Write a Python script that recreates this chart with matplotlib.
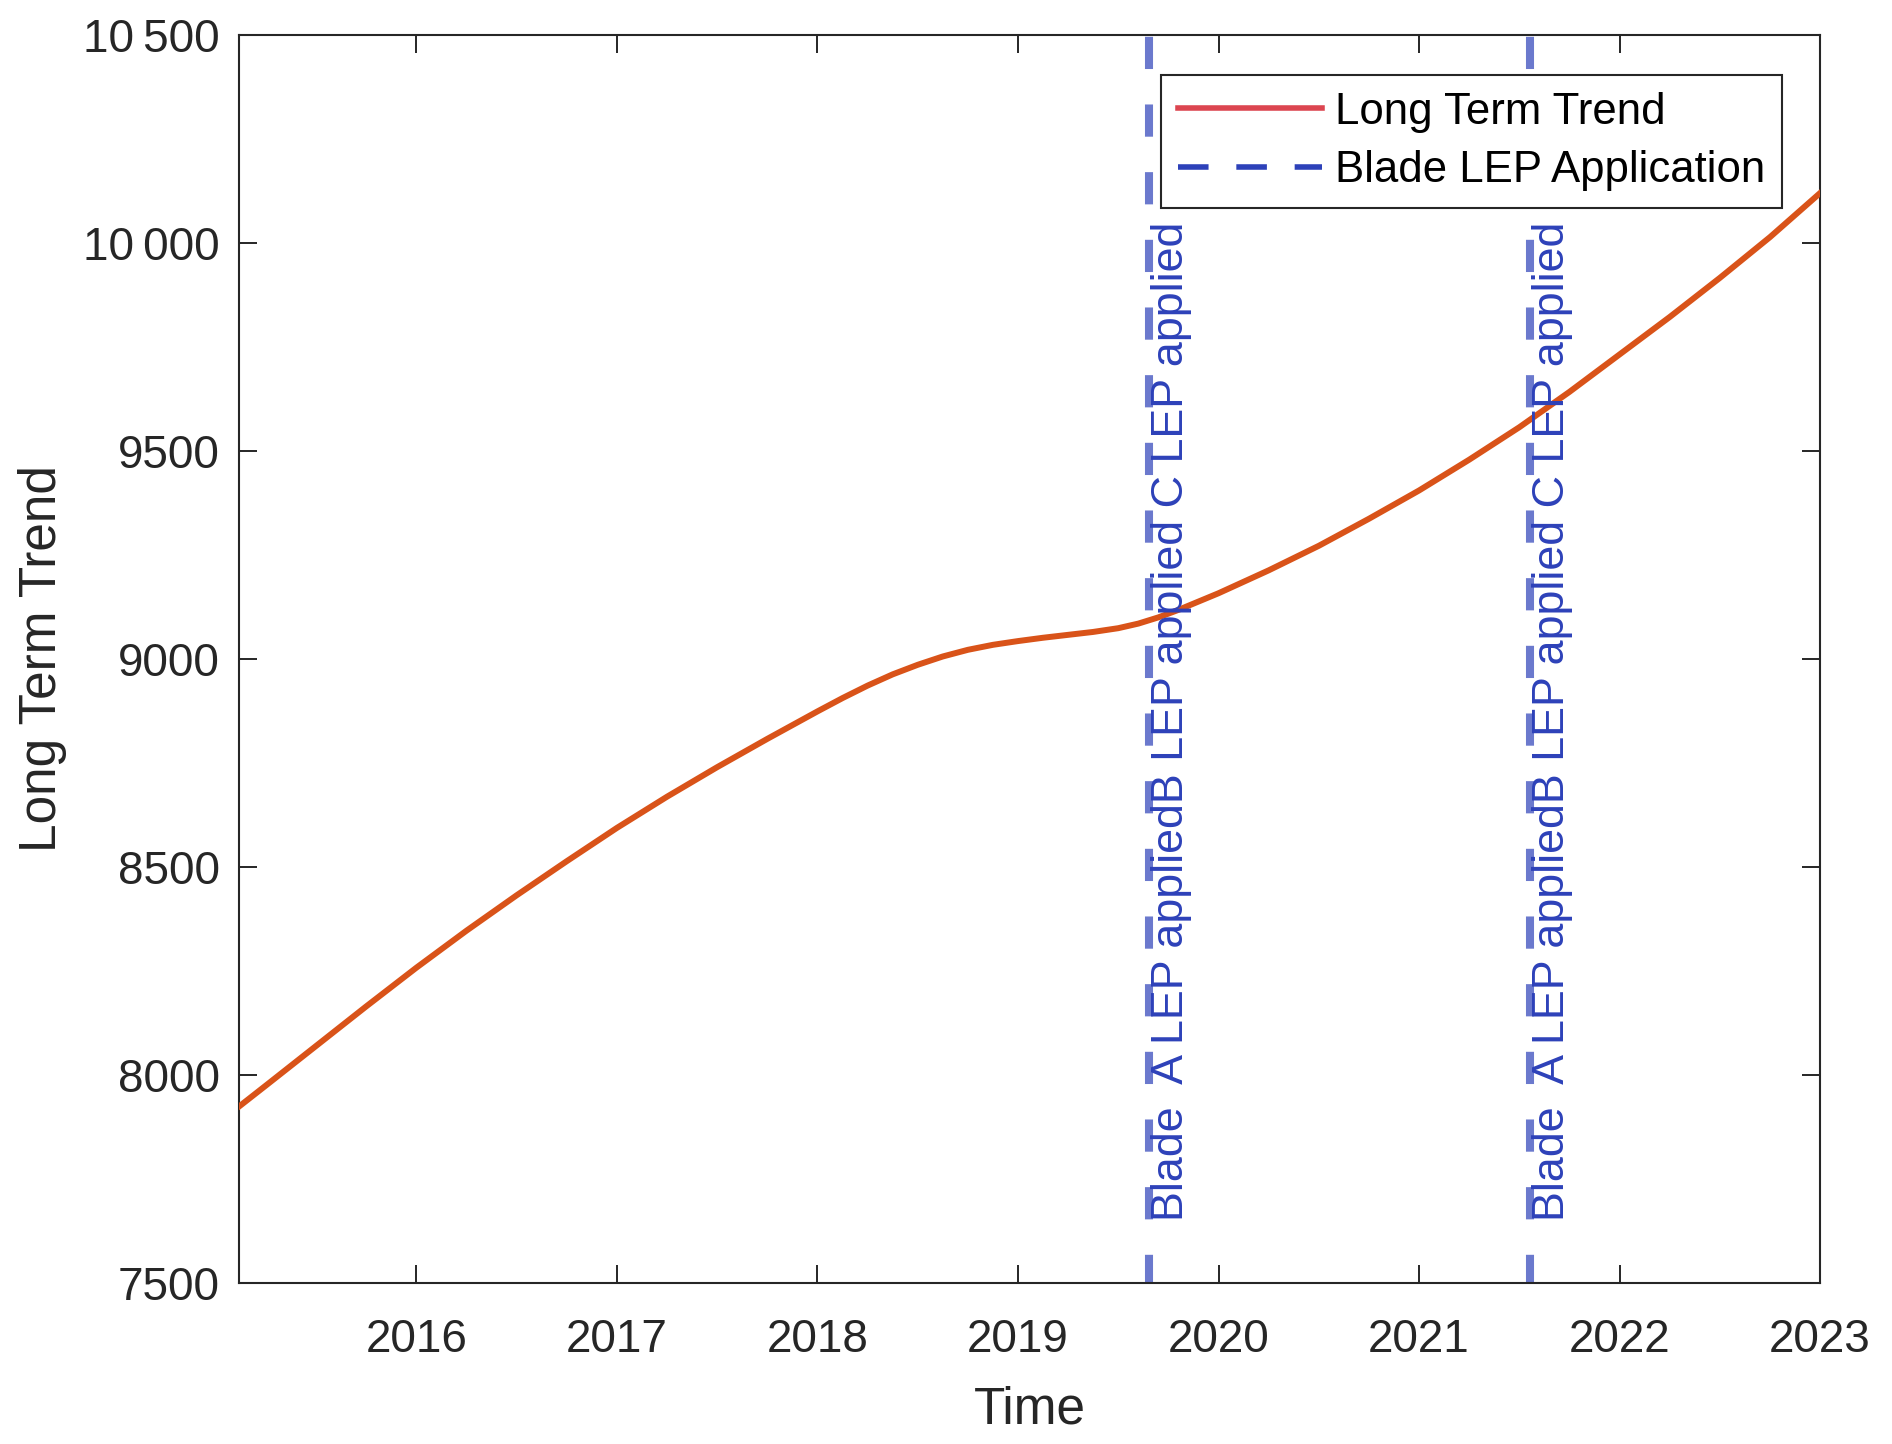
import matplotlib
matplotlib.use('Agg')
import matplotlib.pyplot as plt
from matplotlib.lines import Line2D

######Data######

# time in decimal years, long term trend value
years = [2015.115, 2015.25, 2015.50, 2015.75, 2016.00, 2016.25, 2016.50, 2016.75,
         2017.00, 2017.25, 2017.50, 2017.75, 2018.00, 2018.125, 2018.25, 2018.375,
         2018.50, 2018.625, 2018.75, 2018.875, 2019.00, 2019.125, 2019.25, 2019.375,
         2019.50, 2019.60, 2019.70, 2019.80, 2019.90, 2020.00, 2020.25, 2020.50,
         2020.75, 2021.00, 2021.25, 2021.50, 2021.75, 2022.00, 2022.25, 2022.50,
         2022.75, 2023.00]
trend = [7924, 7975, 8070, 8165, 8258, 8347, 8432, 8514,
         8594, 8669, 8740, 8808, 8874, 8906, 8936, 8963,
         8986, 9006, 9022, 9034, 9043, 9051, 9058, 9065,
         9074, 9085, 9100, 9118, 9138, 9158, 9213, 9272,
         9337, 9405, 9479, 9557, 9642, 9732, 9822, 9916,
         10014, 10120]

# dates of the LEP applications
lep_dates = [2019.653, 2021.553]
lep_text = 'Blade  A LEP appliedB LEP applied C LEP applied'

x_ticks = [2016, 2017, 2018, 2019, 2020, 2021, 2022, 2023]
x_tick_labels = ['2016', '2017', '2018', '2019', '2020', '2021', '2022', '2023']
y_ticks = [7500, 8000, 8500, 9000, 9500, 10000, 10500]
y_tick_labels = ['7500', '8000', '8500', '9000', '9500', '10\u2009000', '10\u2009500']

######Plot######

plt.rcParams['font.family'] = ['Liberation Sans', 'DejaVu Sans']
axis_color = '#262626'

fig = plt.figure(figsize=(18.92, 14.44), dpi=100)
ax = fig.add_axes([0.1263, 0.1115, 0.962 - 0.1263, 0.9758 - 0.1115])

ax.plot(years, trend, color='#d95319', lw=4.3, zorder=3)

for d in lep_dates:
    ax.axvline(d, color='#2d41b9', alpha=0.7, lw=5.8,
               linestyle=(0.5, (4.0, 4.4)), zorder=2)
    ax.text(d + 0.17, 7650, lep_text, rotation=90, rotation_mode='anchor',
            ha='left', va='baseline', color='#2d41b9', fontsize=32.3, zorder=4)

ax.set_xlim(2015.115, 2023.0)
ax.set_ylim(7500, 10500)
ax.set_xticks(x_ticks)
ax.set_xticklabels(x_tick_labels)
ax.set_yticks(y_ticks)
ax.set_yticklabels(y_tick_labels)

ax.tick_params(axis='both', direction='in', length=13, width=1.4,
               colors=axis_color, labelsize=33, top=True, right=True)
ax.tick_params(axis='x', pad=25)
ax.tick_params(axis='y', pad=14)
for s in ax.spines.values():
    s.set_color(axis_color)
    s.set_linewidth(1.5)

ax.set_xlabel('Time', fontsize=37, color=axis_color)
ax.set_ylabel('Long Term Trend', fontsize=37, color=axis_color)
ax.xaxis.set_label_coords(0.5, -0.082)
ax.yaxis.set_label_coords(-0.109, 0.5)

handles = [Line2D([0], [0], color='#dc4550', lw=4),
           Line2D([0], [0], color='#2d41b9', lw=4, linestyle=(0, (5.5, 5.0)))]
leg = ax.legend(handles, ['Long Term Trend', 'Blade LEP Application'],
                loc='upper right', bbox_to_anchor=(0.976, 0.968), borderaxespad=0,
                fontsize=31.5, handlelength=3.3, handletextpad=0.3,
                borderpad=0.38, labelspacing=0.4, fancybox=False, framealpha=1)
leg.get_frame().set_edgecolor('#262626')
leg.get_frame().set_linewidth(1.5)
leg.set_zorder(5)

fig.savefig('out.png', dpi=100, facecolor='white')
